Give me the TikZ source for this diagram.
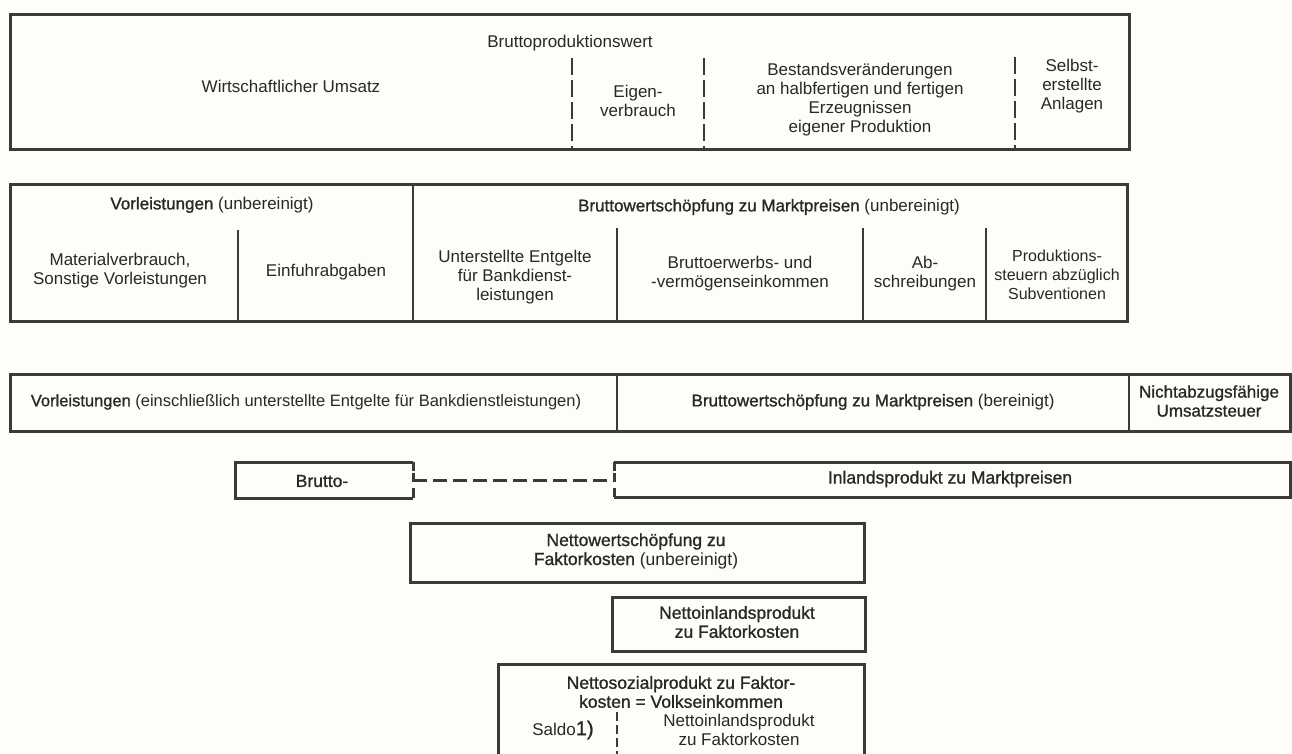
\documentclass[tikz,border=0pt]{standalone}
\usepackage{fontspec}
\setmainfont{Liberation Sans}
\newfontfamily\medfont[FakeBold=1.1]{Liberation Sans}
\definecolor{ink}{RGB}{40,40,40}
\definecolor{lineC}{RGB}{58,58,58}
\definecolor{paper}{RGB}{253,253,249}
\begin{document}
\begin{tikzpicture}[x=1pt,y=-1pt,
  box/.style={draw=lineC, line width=3.2pt, inner sep=0pt, anchor=north west},
  area/.style={inner sep=0pt, anchor=north west},
  txt/.style={text=ink, align=center, inner sep=0pt, font=\fontsize{17}{19}\selectfont},
  mtxt/.style={txt, font=\medfont\fontsize{17.5}{19}\selectfont},
  soliddiv/.style={draw=lineC, line width=2.4pt},
  dashdiv/.style={draw=lineC, line width=2pt, dash pattern=on 17pt off 5pt},
  link/.style={draw=lineC, line width=3.2pt, dash pattern=on 14pt off 6pt},
  edge/.style={draw=lineC, line width=3pt}]
\fill[paper] (0,0) rectangle (1292,754);
\useasboundingbox (0,0) rectangle (1292,754);
% ---- boxes
\node (b1) [box, minimum width=1119pt, minimum height=135pt] at (9,13) {};
\node (b2) [box, minimum width=1117pt, minimum height=137pt] at (9,183) {};
\node (b3) [box, minimum width=1280pt, minimum height=57pt] at (9,373) {};
\node (brutto) [area, minimum width=178pt, minimum height=36pt] at (235,462) {};
\node (inland) [area, minimum width=676pt, minimum height=35pt] at (614,462) {};
\node (nws) [box, minimum width=454pt, minimum height=59pt] at (409,522) {};
\node (nip) [box, minimum width=253pt, minimum height=54pt] at (611,596) {};
\node (nsp) [area, minimum width=366pt, minimum height=90pt] at (498,664) {};
% open / segmented box edges
\draw[edge] (brutto.north east) -- (brutto.north west) -- (brutto.south west) -- (brutto.south east);
\draw[edge, dash pattern=on 9pt off 2pt on 9pt off 6pt on 12pt] (brutto.north east) -- (brutto.south east);
\draw[edge] (inland.north west) -- (inland.north east) -- (inland.south east) -- (inland.south west);
\draw[edge, dash pattern=on 9pt off 2pt on 9pt off 6pt on 12pt] (inland.north west) -- (inland.south west);
\draw[edge] (nsp.south west) -- (nsp.north west) -- (nsp.north east) -- (nsp.south east);
% ---- dividers
\draw[dashdiv] (572,58) -- (572,148);
\draw[dashdiv] (704,58) -- (704,148);
\draw[dashdiv] (1015,57) -- (1015,148);
\draw[soliddiv] (413,183) -- (413,320);
\draw[soliddiv] (238,230) -- (238,320);
\draw[soliddiv] (617,228) -- (617,320);
\draw[soliddiv] (863,228) -- (863,320);
\draw[soliddiv] (986,228) -- (986,320);
\draw[soliddiv] (617,373) -- (617,430);
\draw[soliddiv] (1129,373) -- (1129,430);
\draw[dashdiv, dash pattern=on 9pt off 4pt] (617,712) -- (617,754);
% ---- dashed link
\draw[link] (brutto.east) -- (brutto.east -| inland.west);
% ---- texts row 1
\node (t11) [txt] at (570,43) {Bruttoproduktionswert};
\node (t12) [txt] at (291,86) {Wirtschaftlicher Umsatz};
\node (t13) [txt] at (638,101) {Eigen-\\verbrauch};
\node (t14) [txt] at (860,100) {Bestandsveränderungen\\an halbfertigen und fertigen\\Erzeugnissen\\eigener Produktion};
\node (t15) [txt] at (1072,86) {Selbst-\\erstellte\\Anlagen};
% ---- texts row 2
\node (t21) [txt] at (212,205) {{\medfont Vorleistungen} (unbereinigt)};
\node (t22) [txt] at (769,207) {{\medfont Bruttowertschöpfung zu Marktpreisen} (unbereinigt)};
\node (t23) [txt] at (120,271) {Materialverbrauch,\\Sonstige Vorleistungen};
\node (t24) [txt] at (326,272) {Einfuhrabgaben};
\node (t25) [txt] at (515,277) {Unterstellte Entgelte\\für Bankdienst-\\leistungen};
\node (t26) [txt] at (740,274) {Bruttoerwerbs- und\\-vermögenseinkommen};
\node (t27) [txt] at (925,274) {Ab-\\schreibungen};
\node (t28) [txt, font=\fontsize{16}{19}\selectfont] at (1057,275) {Produktions-\\steuern abzüglich\\Subventionen};
% ---- texts row 3
\node (t31) [txt, font=\fontsize{16.5}{19}\selectfont] at (306,402) {{\medfont Vorleistungen} (einschließlich unterstellte Entgelte für Bankdienstleistungen)};
\node (t32) [txt] at (873,402) {{\medfont Bruttowertschöpfung zu Marktpreisen} (bereinigt)};
\node (t33) [mtxt, font=\medfont\fontsize{17}{19}\selectfont] at (1209,401) {Nichtabzugsfähige\\Umsatzsteuer};
% ---- lower texts
\node (t41) [mtxt] at (322,481) {Brutto-};
\node (t42) [mtxt] at (950,479) {Inlandsprodukt zu Marktpreisen};
\node (t51) [txt, font=\fontsize{17.5}{19}\selectfont] at (636,551) {{\medfont Nettowertschöpfung zu}\\{\medfont Faktorkosten} (unbereinigt)};
\node (t61) [mtxt] at (737,622) {Nettoinlandsprodukt\\zu Faktorkosten};
\node (t71) [mtxt] at (681,692) {Nettosozialprodukt zu Faktor-\\kosten = Volkseinkommen};
\node (t72) [txt] at (563,730) {Saldo{\medfont\fontsize{20}{20}\selectfont 1)}};
\node (t73) [txt] at (739,730) {Nettoinlandsprodukt\\zu Faktorkosten};
\end{tikzpicture}
\end{document}
